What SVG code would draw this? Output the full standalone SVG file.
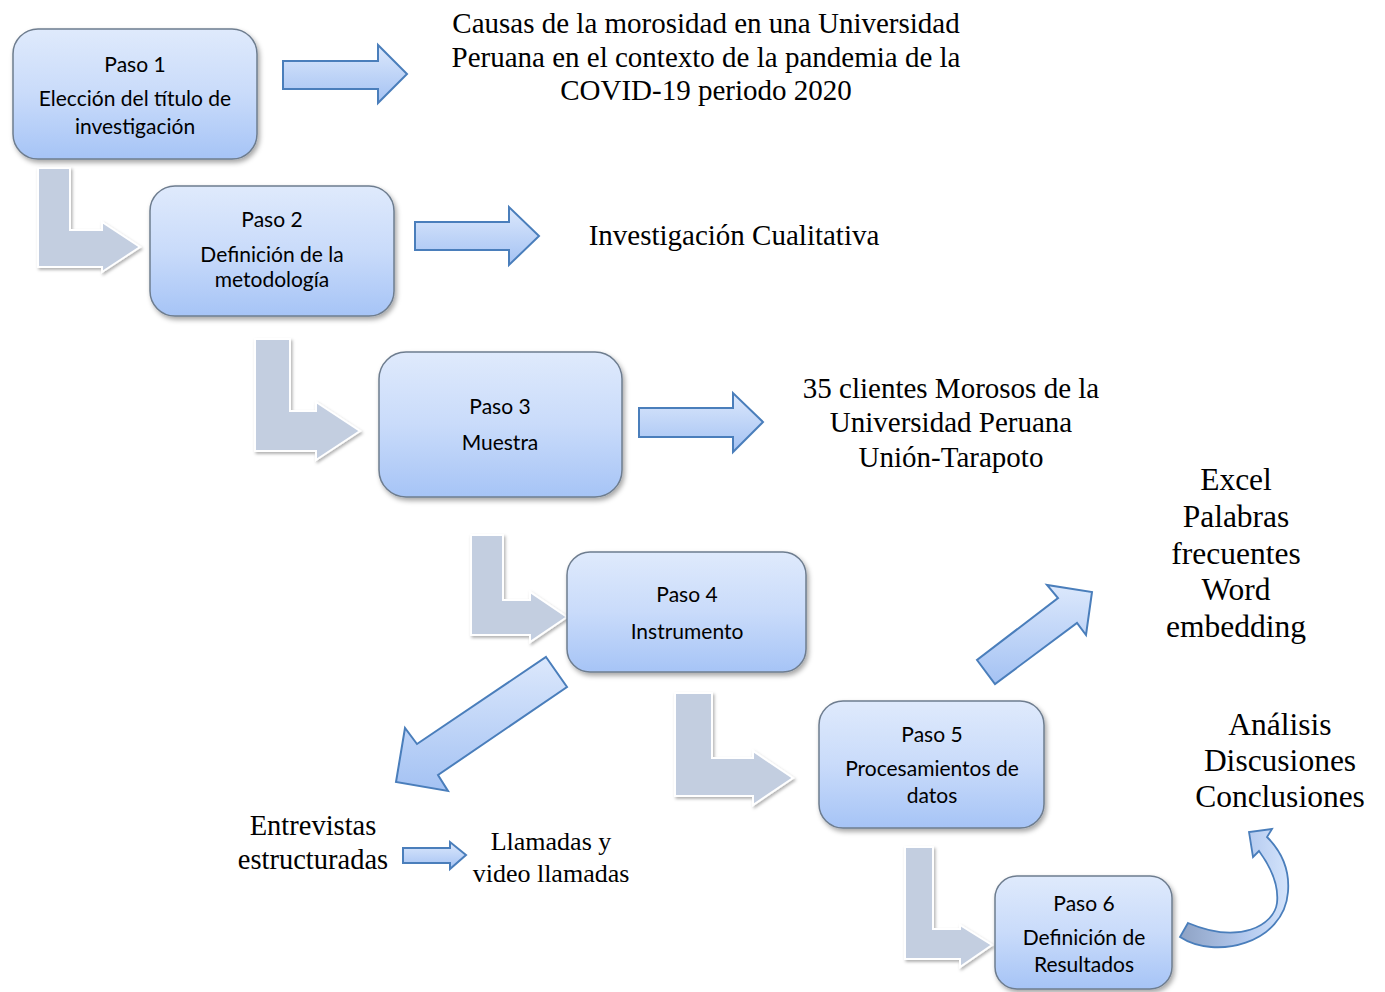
<svg xmlns="http://www.w3.org/2000/svg" width="1385" height="992" viewBox="0 0 1385 992">
<defs>
<linearGradient id="gBox" x1="0" y1="0" x2="0" y2="1">
<stop offset="0" stop-color="#dfeafc"/>
<stop offset="0.5" stop-color="#c9dbfa"/>
<stop offset="1" stop-color="#a6c4f6"/>
</linearGradient>
<linearGradient id="gArrow" x1="0" y1="0" x2="0" y2="1">
<stop offset="0" stop-color="#dce8fc"/>
<stop offset="1" stop-color="#a4c2f3"/>
</linearGradient>
<linearGradient id="gCurve" x1="0" y1="0" x2="1" y2="0">
<stop offset="0" stop-color="#8ea2c4"/>
<stop offset="0.6" stop-color="#b3c9ee"/>
<stop offset="1" stop-color="#d3e3fb"/>
</linearGradient>
<filter id="shadow" x="-10%" y="-10%" width="130%" height="130%">
<feDropShadow dx="2" dy="3" stdDeviation="2.5" flood-color="#000" flood-opacity="0.35"/>
</filter>
<filter id="shadowL" x="-10%" y="-10%" width="130%" height="130%">
<feDropShadow dx="1.5" dy="2" stdDeviation="1.8" flood-color="#000" flood-opacity="0.3"/>
</filter>
</defs>
<style>
.box{fill:url(#gBox);stroke:#6e7d8f;stroke-width:1.5;filter:url(#shadow)}
.bt{font-family:Lato,"Liberation Sans",sans-serif;font-size:21px;fill:#000;text-anchor:middle}
.arr{fill:url(#gArrow);stroke:#4a7ebb;stroke-width:2;stroke-linejoin:miter}
.lar{fill:#c3cee0;stroke:#fff;stroke-width:2;filter:url(#shadowL)}
.tx{font-family:"Liberation Serif","Times New Roman",serif;fill:#000;text-anchor:middle}
</style>
<rect width="1385" height="992" fill="#fff"/>

<g id="connectors">
<path class="lar" d="M38 168 L70 168 L70 230 L102 230 L102 222 L140 247 L102 272 L102 267 L38 267 Z"/>
<path class="lar" d="M255 339 L290 339 L290 411 L316 411 L316 402 L360 431 L316 460 L316 451 L255 451 Z"/>
<path class="lar" d="M471 535 L503 535 L503 600 L530 600 L530 592 L567 617 L530 642 L530 635 L471 635 Z"/>
<path class="lar" d="M675 693 L712 693 L712 758 L753 758 L753 751 L793 778 L753 805 L753 796 L675 796 Z"/>
<path class="lar" d="M905 847 L933 847 L933 929 L960 929 L960 925 L992 945 L960 967 L960 959 L905 959 Z"/>
<path class="arr" d="M283 61 L378 61 L378 45 L407 74 L378 103 L378 89 L283 89 Z"/>
<path class="arr" d="M415 222 L509 222 L509 207 L539 236 L509 265 L509 250 L415 250 Z"/>
<path class="arr" d="M639 408 L733 408 L733 393 L763 422 L733 452 L733 437 L639 437 Z"/>
<path class="arr" d="M403 848 L450 848 L450 842 L466 855 L450 869 L450 863 L403 863 Z"/>
<path class="arr" d="M546 657 L567 687 L438 775 L448 791 L396 782 L405 728 L417 744 Z"/>
<path class="arr" d="M977 660 L995 684 L1077 623 L1086 635 L1092 592 L1047 585 L1058 598 Z"/>
<path d="M1180 937 C1215 960 1284 944 1288 892 C1290 868 1280 850 1267 837 L1272 829 L1249 832 L1253 857 L1259 851 C1270 866 1279 885 1277 903 C1274 925 1240 945 1188 923 Z" fill="url(#gCurve)" stroke="#4a7ebb" stroke-width="1.8" stroke-linejoin="miter"/>
</g>

<g id="paso1">
<rect class="box" x="13" y="29" width="244" height="130" rx="25"/>
<text class="bt" x="135" y="72">Paso 1</text>
<text class="bt" x="135" y="106">Elección del título de</text>
<text class="bt" x="135" y="134">investigación</text>
</g>
<g id="paso2">
<rect class="box" x="150" y="186" width="244" height="130" rx="25"/>
<text class="bt" x="272" y="227">Paso 2</text>
<text class="bt" x="272" y="262">Definición de la</text>
<text class="bt" x="272" y="287">metodología</text>
</g>
<g id="paso3">
<rect class="box" x="379" y="352" width="243" height="145" rx="27"/>
<text class="bt" x="500" y="414">Paso 3</text>
<text class="bt" x="500" y="450">Muestra</text>
</g>
<g id="paso4">
<rect class="box" x="567" y="552" width="239" height="120" rx="23"/>
<text class="bt" x="687" y="602">Paso 4</text>
<text class="bt" x="687" y="639">Instrumento</text>
</g>
<g id="paso5">
<rect class="box" x="819" y="701" width="225" height="127" rx="24"/>
<text class="bt" x="932" y="742">Paso 5</text>
<text class="bt" x="932" y="776">Procesamientos de</text>
<text class="bt" x="932" y="803">datos</text>
</g>
<g id="paso6">
<rect class="box" x="995" y="876" width="177" height="113" rx="22"/>
<text class="bt" x="1084" y="911">Paso 6</text>
<text class="bt" x="1084" y="945">Definición de</text>
<text class="bt" x="1084" y="972">Resultados</text>
</g>

<g id="titulo">
<text class="tx" font-size="29" x="706" y="33">Causas de la morosidad en una Universidad</text>
<text class="tx" font-size="29" x="706" y="67">Peruana en el contexto de la pandemia de la</text>
<text class="tx" font-size="29" x="706" y="100">COVID-19 periodo 2020</text>
</g>
<g id="tipo">
<text class="tx" font-size="29" x="734" y="245">Investigación Cualitativa</text>
</g>
<g id="muestra">
<text class="tx" font-size="29" x="951" y="398">35 clientes Morosos de la</text>
<text class="tx" font-size="29" x="951" y="432">Universidad Peruana</text>
<text class="tx" font-size="29" x="951" y="467">Unión-Tarapoto</text>
</g>
<g id="herramientas">
<text class="tx" font-size="31.5" x="1236" y="490">Excel</text>
<text class="tx" font-size="31.5" x="1236" y="527">Palabras</text>
<text class="tx" font-size="31.5" x="1236" y="564">frecuentes</text>
<text class="tx" font-size="31.5" x="1236" y="600">Word</text>
<text class="tx" font-size="31.5" x="1236" y="637">embedding</text>
</g>
<g id="resultados">
<text class="tx" font-size="31.5" x="1280" y="735">Análisis</text>
<text class="tx" font-size="31.5" x="1280" y="771">Discusiones</text>
<text class="tx" font-size="31.5" x="1280" y="807">Conclusiones</text>
</g>
<g id="entrevistas">
<text class="tx" font-size="28.5" x="313" y="835">Entrevistas</text>
<text class="tx" font-size="28.5" x="313" y="869">estructuradas</text>
</g>
<g id="llamadas">
<text class="tx" font-size="26" x="551" y="850">Llamadas y</text>
<text class="tx" font-size="26" x="551" y="882">video llamadas</text>
</g>
</svg>
